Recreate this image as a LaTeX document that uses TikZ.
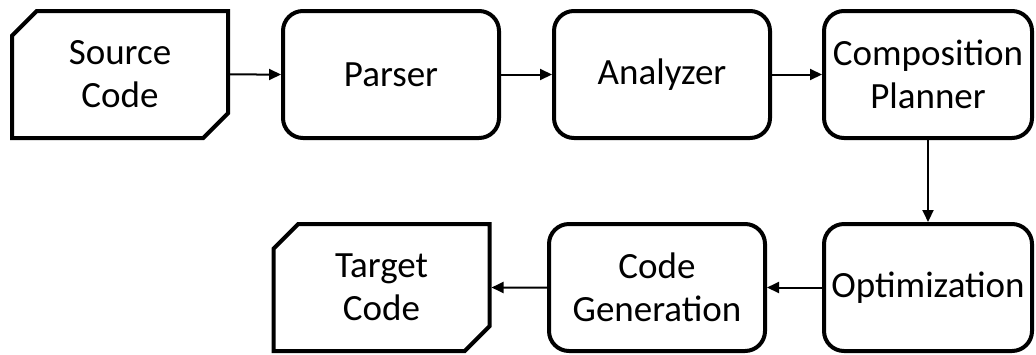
\documentclass[tikz,border=0pt]{standalone}
\usepackage{fontspec}
\setmainfont{Carlito}
\usetikzlibrary{arrows.meta,shapes.misc}

\begin{document}
\begin{tikzpicture}[x=0.5pt, y=-0.5pt,
    stage/.style={draw, line width=2pt, rounded corners=10pt, align=center,
      minimum width=108pt, minimum height=63.5pt, inner sep=0pt,
      font=\fontsize{18.5}{21.5}\selectfont},
    codefile/.style={stage, rounded corners=0pt, chamfered rectangle,
      chamfered rectangle corners={north west, south east},
      chamfered rectangle sep=6.2pt},
    flow/.style={line width=1pt, -{Triangle[length=6pt, width=5.5pt]}}]
  \useasboundingbox (0,0) rectangle (1036,354);
  % top row
  \node[codefile] (src) at (120,74.5) {Source\\Code};
  \node[stage] (parser) at (391,74.5) {Parser};
  \node[stage] (analyzer) at (662,74.5) {Analyzer};
  \node[stage, minimum width=104pt] (planner) at (928,74.5) {Composition\\Planner};
  % bottom row
  \node[stage, minimum width=104pt] (optim) at (928,287.5) {Optimization};
  \node[stage] (codegen) at (657,287.5) {Code\\Generation};
  \node[codefile] (target) at (381.5,287.5) {Target\\Code};
  % connectors
  \draw[flow] (src) -- (parser);
  \draw[flow] (parser) -- (analyzer);
  \draw[flow] (analyzer) -- (planner);
  \draw[flow] (planner) -- (optim);
  \draw[flow] (optim) -- (codegen);
  \draw[flow] (codegen) -- (target);
\end{tikzpicture}
\end{document}
